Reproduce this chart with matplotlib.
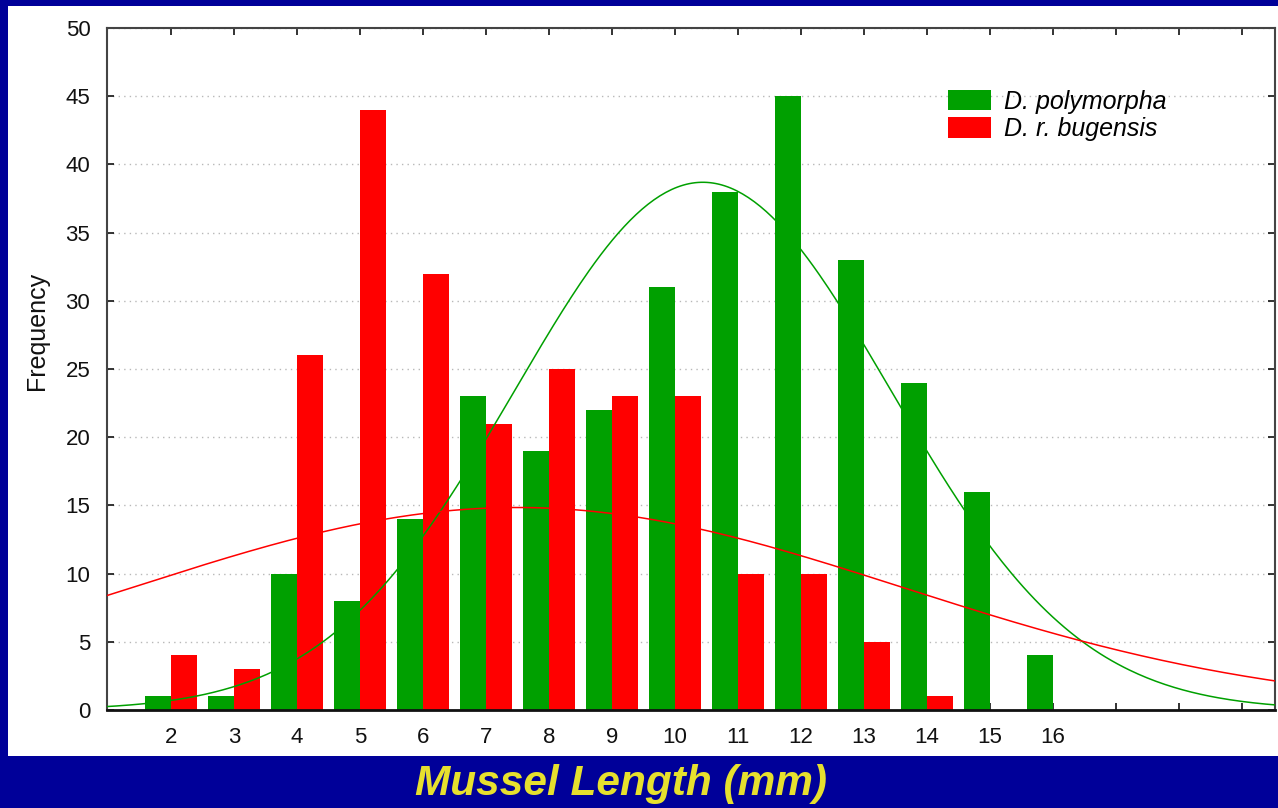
import numpy as np
import matplotlib
matplotlib.use('Agg')
import matplotlib.pyplot as plt
from matplotlib.patches import Patch, Rectangle

plt.rcParams['font.family'] = ['Liberation Sans', 'DejaVu Sans']

# frequencies per 1 mm length class
lengths = [2, 3, 4, 5, 6, 7, 8, 9, 10, 11, 12, 13, 14, 15, 16]
polymorpha = [1, 1, 10, 8, 14, 23, 19, 22, 31, 38, 45, 33, 24, 16, 4]
bugensis = [4, 3, 26, 44, 32, 21, 25, 23, 23, 10, 10, 5, 1, 0, 0]

# fitted normal curves (mean, sd)
polymorpha_fit = (10.44, 2.98)
bugensis_fit = (7.5, 6.1)

navy = '#000099'
green = '#00a000'
red = '#ff0000'

fig = plt.figure(figsize=(12.78, 8.08), dpi=100, facecolor=navy)
fig.patches.append(Rectangle((8 / 1278, 1 - 756 / 808), 1 - 8 / 1278, (756 - 6) / 808,
                             transform=fig.transFigure, facecolor='white',
                             edgecolor='none', zorder=-10))

ax = fig.add_axes([107 / 1278, 1 - 710 / 808, (1275 - 107) / 1278, (710 - 28) / 808])
ax.set_facecolor('white')

x = np.array(lengths)
w = 0.41
ax.bar(x, polymorpha, width=-w, align='edge', color=green, zorder=2)
ax.bar(x, bugensis, width=w, align='edge', color=red, zorder=2)

xs = np.linspace(0.9, 19.6, 400)
for counts, (mu, sd), col in [(polymorpha, polymorpha_fit, green),
                              (bugensis, bugensis_fit, red)]:
    n = sum(counts)
    ys = n / (sd * np.sqrt(2 * np.pi)) * np.exp(-(xs - mu) ** 2 / (2 * sd ** 2))
    ax.plot(xs, ys, color=col, lw=1.1, zorder=3)

ax.set_xlim(0.985, 19.52)
ax.set_ylim(0, 50)
ax.set_yticks(range(0, 51, 5))
ax.set_xticks(range(2, 20))
ax.set_xticklabels([str(v) for v in lengths] + ['', '', ''])
ax.yaxis.grid(True, color='#b8b8b8', linestyle=(0, (1, 3)), lw=1)
ax.set_axisbelow(True)

ax.tick_params(direction='in', length=5, width=1.2, top=True, right=True,
               labelsize=16, colors='#111111')
ax.tick_params(axis='x', pad=12)
ax.tick_params(axis='y', pad=12)
for s in ax.spines.values():
    s.set_color('#444444')
    s.set_linewidth(1.5)
ax.spines['bottom'].set_color('#111111')
ax.spines['bottom'].set_linewidth(2)

fig.text(37 / 1278, 1 - 331 / 808, 'Frequency', rotation=90, ha='center',
         va='center', fontsize=18, color='#111111')

handles = [Patch(facecolor=green, edgecolor='none'),
           Patch(facecolor=red, edgecolor='none')]
fig.legend(handles, ['D. polymorpha', 'D. r. bugensis'], loc='upper left',
           bbox_to_anchor=(935 / 1278, 1 - 77 / 808), frameon=False,
           prop={'style': 'italic', 'size': 18}, handlelength=1.75,
           handleheight=0.9, labelspacing=0.15, handletextpad=0.5, borderpad=0)

fig.text(621 / 1278, 1 - 795 / 808, 'Mussel Length (mm)', ha='center',
         va='baseline', fontsize=30.5, fontweight='bold', style='italic',
         color='#e6e02e')

fig.savefig('out.png', dpi=100, facecolor=navy)
